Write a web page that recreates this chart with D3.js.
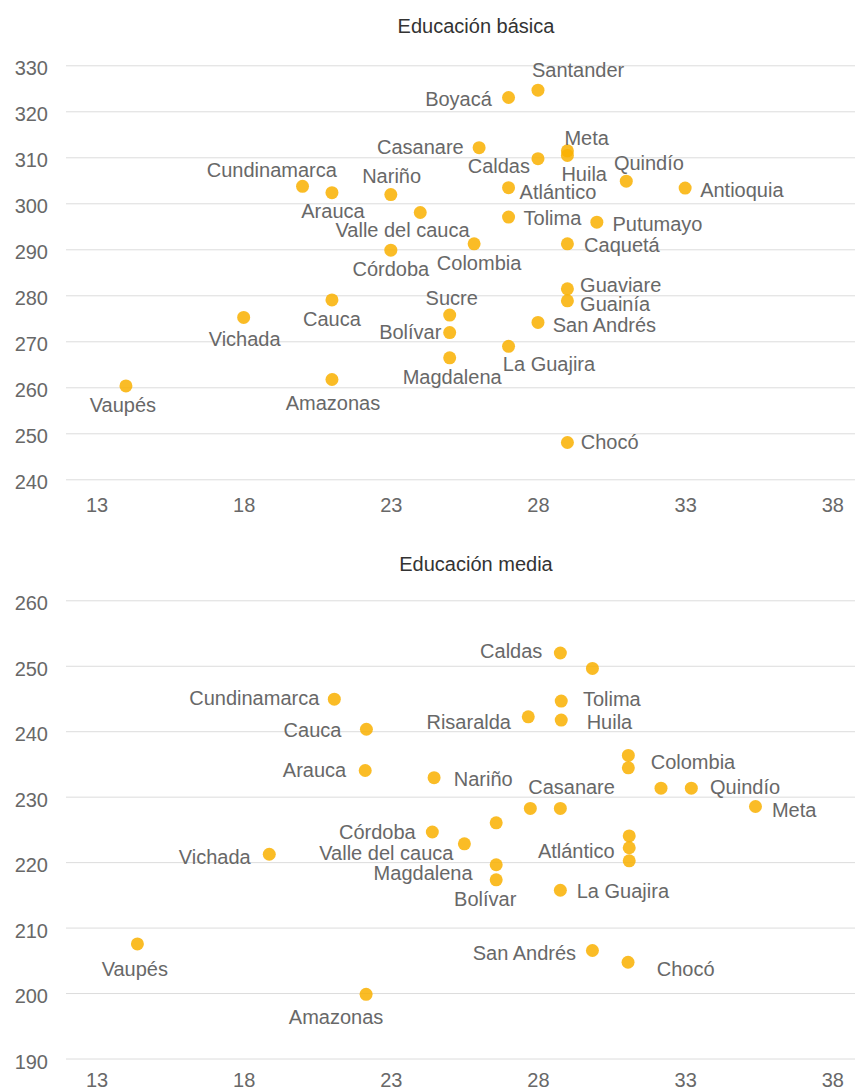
<!DOCTYPE html>
<html>
<head>
<meta charset="utf-8">
<script src="https://cdn.jsdelivr.net/npm/d3@7"></script>
<style>
  html, body { margin: 0; padding: 0; background: #fff; }
  svg { display: block; font-family: "Liberation Sans", Arial, Helvetica, sans-serif; }
</style>
</head>
<body>
<svg id="chart" width="855" height="1089"></svg>
<script>
// ---------------- DATA ----------------
const xTicks = [13, 18, 23, 28, 33, 38];

// Educación básica
const basicaTitle = "Educación básica";
const basicaYTicks = [240, 250, 260, 270, 280, 290, 300, 310, 320, 330];
const basicaNames = ["Vaupés","Vichada","Cauca","Amazonas","Córdoba","Cundinamarca","Arauca","Nariño",
  "Valle del cauca","Colombia","Boyacá","Santander","Casanare","Caldas","Meta","Huila","Quindío",
  "Antioquia","Atlántico","Tolima","Putumayo","Caquetá","Guaviare","Guainía","Sucre","Bolívar",
  "Magdalena","San Andrés","La Guajira","Chocó"];
const basicaX = [14, 18, 21, 21, 23, 20, 21, 23,
  24, 25.83, 27, 28, 26, 28, 29, 29, 31,
  33, 27, 27, 30, 29, 29, 29, 25, 25,
  25, 28, 27, 29];
const basicaY = [260.3, 275.2, 279.0, 261.7, 289.8, 303.7, 302.3, 301.9,
  298.0, 291.2, 323.0, 324.6, 312.1, 309.7, 311.4, 310.4, 304.8,
  303.3, 303.4, 297.0, 295.9, 291.2, 281.4, 278.8, 275.7, 271.9,
  266.4, 274.1, 268.9, 248.0];

// Educación media ("" = point without a label in the source)
const mediaTitle = "Educación media";
const mediaYTicks = [190, 200, 210, 220, 230, 240, 250, 260];
const mediaNames = ["Vaupés","Vichada","Amazonas","Cundinamarca","Cauca","Arauca","Nariño","Caldas",
  "","Tolima","Huila","Risaralda","","Colombia","","Quindío","","Casanare","Meta","Córdoba",
  "Valle del cauca","","Magdalena","Bolívar","","Atlántico","","La Guajira","San Andrés","Chocó"];
const mediaX = [14.39, 18.87, 22.16, 21.08, 22.17, 22.13, 24.47, 28.76,
  29.85, 28.79, 28.79, 27.67, 31.07, 31.07, 32.18, 33.21, 27.74, 28.76, 35.39, 24.41,
  25.5, 26.58, 26.58, 26.58, 31.1, 31.1, 31.1, 28.76, 29.85, 31.06];
const mediaY = [207.5, 221.2, 199.8, 244.9, 240.3, 234.0, 232.9, 251.95,
  249.6, 244.6, 241.7, 242.2, 236.3, 234.4, 231.3, 231.3, 228.2, 228.2, 228.5, 224.6,
  222.8, 226.0, 219.6, 217.3, 224.0, 222.2, 220.2, 215.7, 206.5, 204.7];

// ---------------- LAYOUT (label placement relative to each dot) ----------------
const basicaLabels = {
  "Vaupés": ["middle", -3, 26], "Vichada": ["middle", 1, 28.7], "Cauca": ["middle", 0, 26.3],
  "Amazonas": ["middle", 1, 30.3], "Córdoba": ["middle", 0, 25.7], "Cundinamarca": ["middle", -30.7, -9.6],
  "Arauca": ["middle", 1, 25.6], "Nariño": ["middle", 0.8, -12], "Valle del cauca": ["middle", -17.7, 24.4],
  "Colombia": ["middle", 5, 26.3], "Boyacá": ["end", -16.7, 8.7], "Santander": ["start", -6, -13],
  "Casanare": ["end", -15.4, 6.3], "Caldas": ["end", -8, 14], "Meta": ["start", -3, -6],
  "Huila": ["start", -6, 25.3], "Quindío": ["start", -12.4, -11.3], "Antioquia": ["start", 15, 8.7],
  "Atlántico": ["start", 11, 11.3], "Tolima": ["start", 15, 7.7], "Putumayo": ["start", 15.6, 8.4],
  "Caquetá": ["start", 16.7, 8.6], "Guaviare": ["start", 12.7, 2.7], "Guainía": ["start", 12.7, 9.7],
  "Sucre": ["middle", 2, -10.3], "Bolívar": ["end", -8.3, 6.6], "Magdalena": ["middle", 2.5, 26.3],
  "San Andrés": ["start", 14.7, 9.4], "La Guajira": ["start", -5.7, 24.7], "Chocó": ["start", 13.4, 6.6]
};
const mediaLabels = {
  "Vaupés": ["middle", -2.6, 31.7], "Vichada": ["end", -18.6, 10], "Amazonas": ["middle", -30, 30],
  "Cundinamarca": ["end", -15, 6], "Cauca": ["end", -25, 8], "Arauca": ["end", -19, 6.4],
  "Nariño": ["start", 19.7, 8], "Caldas": ["end", -18, 5], "Tolima": ["start", 21.7, 4.7],
  "Huila": ["start", 25.4, 9.3], "Risaralda": ["end", -17.3, 12.3], "Colombia": ["start", 22.4, 1.3],
  "Quindío": ["start", 18.7, 6], "Casanare": ["middle", 11.2, -14.7], "Meta": ["start", 16.4, 10.6],
  "Córdoba": ["end", -16.6, 7], "Valle del cauca": ["end", -11, 16.3], "Magdalena": ["end", -23.6, 15],
  "Bolívar": ["middle", -11, 26.3], "Atlántico": ["end", -14.6, 10.6], "La Guajira": ["start", 16.4, 7.4],
  "San Andrés": ["end", -16.3, 10], "Chocó": ["start", 28.7, 14]
};

const W = 855;
const gridLeft = 66;
const fontSize = 20;
const dotColor = "#f9b000";
const textColor = "#686868";

const svg = d3.select("#chart");
const x = d3.scaleLinear().domain([13, 38]).range([96.5, 832.3]);

function drawPanel(opts) {
  const g = svg.append("g");
  const y = d3.scaleLinear().domain(d3.extent(opts.yTicks)).range([opts.bottom, opts.top]);

  // title
  g.append("text")
    .attr("x", 476).attr("y", opts.titleY)
    .attr("text-anchor", "middle")
    .attr("fill", "#333")
    .style("font-size", fontSize + "px")
    .text(opts.title);

  // y axis with gridlines
  const ya = g.append("g")
    .attr("transform", `translate(${gridLeft},0)`)
    .call(d3.axisLeft(y).tickValues(opts.yTicks).tickSize(-(W - gridLeft)).tickPadding(18));
  ya.select(".domain").remove();
  ya.selectAll(".tick line").attr("stroke", "#dcdcdc").attr("stroke-width", 1);
  ya.selectAll(".tick text").attr("fill", textColor).attr("dy", "0.48em")
    .style("font-size", fontSize + "px").style("font-family", "inherit");

  // x axis
  const xa = g.append("g")
    .attr("transform", `translate(0,${opts.bottom})`)
    .call(d3.axisBottom(x).tickValues(opts.xTicks).tickSize(0).tickPadding(opts.xPad));
  xa.select(".domain").remove();
  xa.selectAll(".tick text").attr("fill", textColor)
    .style("font-size", fontSize + "px").style("font-family", "inherit");

  const data = opts.names.map((n, i) => ({ name: n, x: opts.xs[i], y: opts.ys[i] }));

  // dots
  g.append("g").selectAll("circle").data(data).join("circle")
    .attr("cx", d => x(d.x)).attr("cy", d => y(d.y))
    .attr("r", 6.5)
    .attr("fill", dotColor).attr("fill-opacity", 0.85);

  // labels
  g.append("g").selectAll("text").data(data.filter(d => d.name && opts.labels[d.name])).join("text")
    .attr("x", d => x(d.x) + opts.labels[d.name][1])
    .attr("y", d => y(d.y) + opts.labels[d.name][2])
    .attr("text-anchor", d => opts.labels[d.name][0])
    .attr("fill", textColor)
    .style("font-size", fontSize + "px")
    .text(d => d.name);
}

drawPanel({ title: basicaTitle, titleY: 33.3, yTicks: basicaYTicks, xTicks: xTicks,
  top: 65.3, bottom: 479.3, xPad: 19,
  names: basicaNames, xs: basicaX, ys: basicaY, labels: basicaLabels });

drawPanel({ title: mediaTitle, titleY: 570.7, yTicks: mediaYTicks, xTicks: xTicks,
  top: 600.3, bottom: 1058.5, xPad: 14.5,
  names: mediaNames, xs: mediaX, ys: mediaY, labels: mediaLabels });
</script>
</body>
</html>
